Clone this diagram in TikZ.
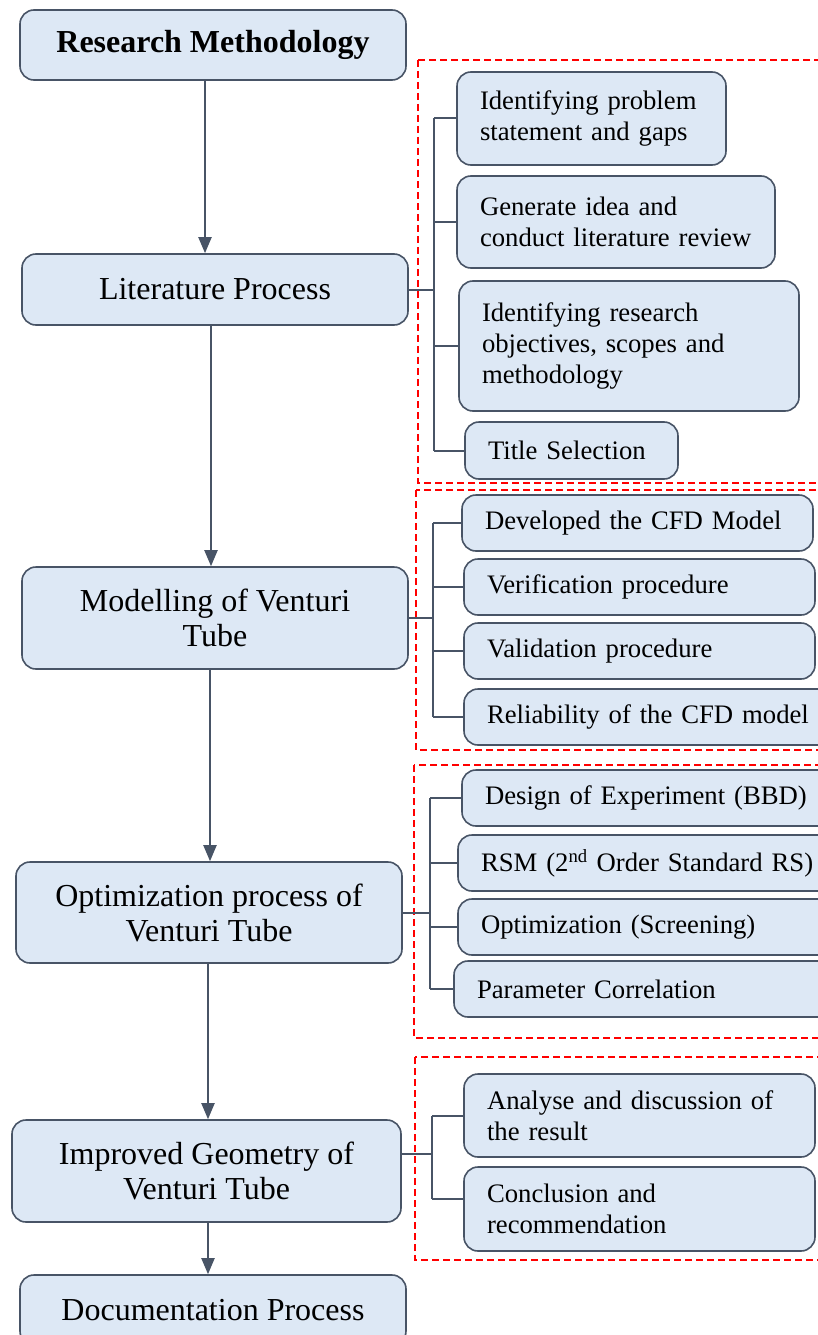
\documentclass[tikz,border=0pt]{standalone}
\usepackage{fontspec}
\setmainfont{Liberation Serif}
\usetikzlibrary{arrows.meta}
\definecolor{boxfill}{RGB}{221,232,245}
\definecolor{boxline}{RGB}{72,84,102}
\definecolor{framered}{RGB}{255,0,0}
\begin{document}
\begin{tikzpicture}[x=1pt, y=-1pt,
  mainbox/.style={draw=boxline, fill=boxfill, line width=1.6pt, rounded corners=14pt, minimum width=386pt, align=center, inner sep=2pt, font=\fontsize{32}{35}\selectfont},
  subbox/.style={draw=boxline, fill=boxfill, line width=1.6pt, rounded corners=14pt, minimum width=#1, text width=#1-46pt, inner xsep=23pt, inner ysep=2pt, align=left, font=\fontsize{26.7}{31}\selectfont},
  link/.style={draw=boxline, line width=2pt},
  flow/.style={link, -{Triangle[width=13pt,length=16pt]}},
  frame/.style={draw=framered, line width=1.4pt, dash pattern=on 7pt off 4pt}]
  \clip (0,0) rectangle (818,1335);
  \draw[frame] (418,60) rectangle (840,483);
  \draw[frame] (416,490) rectangle (840,750);
  \draw[frame] (414,765) rectangle (840,1038);
  \draw[frame] (415,1057) rectangle (840,1260);

  \node[mainbox, minimum height=70pt] (resmeth) at (213,45) {\textbf{Research Methodology}};
  \node[mainbox, minimum height=71pt] (litproc) at (215,289.5) {Literature Process};
  \node[mainbox, minimum height=102pt] (modven) at (215,618) {Modelling of Venturi\\Tube};
  \node[mainbox, minimum height=101pt] (optven) at (209,912.5) {Optimization process of\\Venturi Tube};
  \node[mainbox, minimum width=389pt, minimum height=102pt] (impgeo) at (206.5,1171) {Improved Geometry of\\Venturi Tube};
  \node[mainbox, minimum height=70pt] (docproc) at (213,1310) {Documentation Process};

  \node[subbox=269pt, minimum height=93pt] (lit1) at (591.5,118.5) {Identifying problem\\statement and gaps};
  \node[subbox=318pt, minimum height=92pt] (lit2) at (616,222) {Generate idea and\\conduct literature review};
  \node[subbox=340pt, minimum height=130pt] (lit3) at (629,346) {Identifying research\\objectives, scopes and\\methodology};
  \node[subbox=213pt, minimum height=57pt] (lit4) at (571.5,450.5) {Title Selection};

  \node[subbox=351pt, minimum height=56pt] (mod1) at (637.5,523) {Developed the CFD Model};
  \node[subbox=351pt, minimum height=56pt] (mod2) at (639.5,587) {Verification procedure};
  \node[subbox=351pt, minimum height=56pt] (mod3) at (639.5,651) {Validation procedure};
  \node[subbox=376pt, minimum height=56pt] (mod4) at (652,717) {Reliability of the CFD model};

  \node[subbox=378pt, minimum height=56pt] (opt1) at (651,798) {Design of Experiment (BBD)};
  \node[subbox=382pt, minimum height=56pt] (opt2) at (649,863) {RSM (2\textsuperscript{nd} Order Standard RS)};
  \node[subbox=382pt, minimum height=56pt] (opt3) at (649,927) {Optimization (Screening)};
  \node[subbox=386pt, minimum height=56pt] (opt4) at (647,989) {Parameter Correlation};

  \node[subbox=351pt, minimum height=83pt] (res1) at (639.5,1115.5) {Analyse and discussion of\\the result};
  \node[subbox=351pt, minimum height=84pt] (res2) at (639.5,1209) {Conclusion and\\recommendation};

  \draw[flow] ([xshift=-8pt]resmeth.south) -- ([xshift=-8pt]resmeth.south |- litproc.north);
  \draw[flow] ([xshift=-4pt]litproc.south) -- ([xshift=-4pt]litproc.south |- modven.north);
  \draw[flow] ([xshift=-5pt]modven.south) -- ([xshift=-5pt]modven.south |- optven.north);
  \draw[flow] ([xshift=-1pt]optven.south) -- ([xshift=-1pt]optven.south |- impgeo.north);
  \draw[flow] ([xshift=1.5pt]impgeo.south) -- ([xshift=1.5pt]impgeo.south |- docproc.north);

  \coordinate (litspine) at (434,0);
  \draw[link] (litproc.east) -- (litproc.east -| litspine);
  \draw[link] (lit1.west -| litspine) -- (lit4.west -| litspine);
  \draw[link] (lit1.west -| litspine) -- (lit1.west);
  \draw[link] (lit2.west -| litspine) -- (lit2.west);
  \draw[link] (lit3.west -| litspine) -- (lit3.west);
  \draw[link] (lit4.west -| litspine) -- (lit4.west);

  \coordinate (modspine) at (433,0);
  \draw[link] (modven.east) -- (modven.east -| modspine);
  \draw[link] (mod1.west -| modspine) -- (mod4.west -| modspine);
  \draw[link] (mod1.west -| modspine) -- (mod1.west);
  \draw[link] (mod2.west -| modspine) -- (mod2.west);
  \draw[link] (mod3.west -| modspine) -- (mod3.west);
  \draw[link] (mod4.west -| modspine) -- (mod4.west);

  \coordinate (optspine) at (430,0);
  \draw[link] (optven.east) -- (optven.east -| optspine);
  \draw[link] (opt1.west -| optspine) -- (opt4.west -| optspine);
  \draw[link] (opt1.west -| optspine) -- (opt1.west);
  \draw[link] (opt2.west -| optspine) -- (opt2.west);
  \draw[link] (opt3.west -| optspine) -- (opt3.west);
  \draw[link] (opt4.west -| optspine) -- (opt4.west);

  \coordinate (resspine) at (432,0);
  \draw[link] ([yshift=17pt]impgeo.east) -- ([yshift=17pt]impgeo.east -| resspine);
  \draw[link] (res1.west -| resspine) -- ([yshift=10pt]res2.west -| resspine);
  \draw[link] (res1.west -| resspine) -- (res1.west);
  \draw[link] ([yshift=10pt]res2.west -| resspine) -- ([yshift=10pt]res2.west);
\end{tikzpicture}
\end{document}
